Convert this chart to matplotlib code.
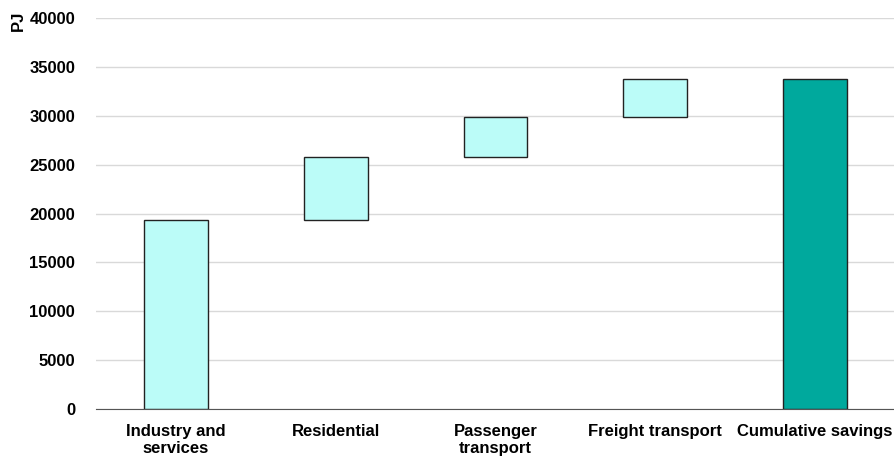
import numpy as np
import matplotlib.pyplot as plt

plt.rcParams['font.family'] = ['Liberation Sans', 'DejaVu Sans']

# Savings by sector (PJ), waterfall steps
categories = ['Industry and\nservices', 'Residential', 'Passenger\ntransport',
              'Freight transport', 'Cumulative savings']
savings = [19350, 6450, 4050, 3900]

# Build waterfall: bottoms and heights
steps = np.array(savings)
bottoms = np.concatenate([[0], np.cumsum(steps)[:-1], [0]])
heights = np.concatenate([steps, [steps.sum()]])
colors = ['#bbfcf8'] * len(steps) + ['#00a99d']

fig = plt.figure(figsize=(8.94, 4.57), dpi=100)
ax = fig.add_axes([96/894, 48/457, 799/894, 391/457])

x = np.arange(len(categories))
ax.bar(x, heights, bottom=bottoms, width=0.4, color=colors,
       edgecolor='#222222', linewidth=1, zorder=3)

ax.set_xlim(-0.5, 4.5)
ax.set_ylim(0, 40000)
ax.set_yticks(np.arange(0, 40001, 5000))
ax.set_xticks(x)
ax.set_xticklabels(categories, fontweight='bold', fontsize=12,
                   linespacing=1.15)
for lbl in ax.get_yticklabels():
    lbl.set_fontweight('bold')
    lbl.set_fontsize(12)
ax.tick_params(axis='y', length=0, pad=15)
ax.tick_params(axis='x', length=0, pad=11)
ax.grid(axis='y', color='#d9d9d9', linewidth=1, zorder=0)

for s in ['left', 'right', 'top']:
    ax.spines[s].set_visible(False)
ax.spines['bottom'].set_color('#555555')
ax.spines['bottom'].set_zorder(4)

fig.text(18/894, 1 - 21/457, 'PJ', rotation=90, fontweight='bold',
         fontsize=12, ha='center', va='center')

fig.savefig('out.png', dpi=100)
